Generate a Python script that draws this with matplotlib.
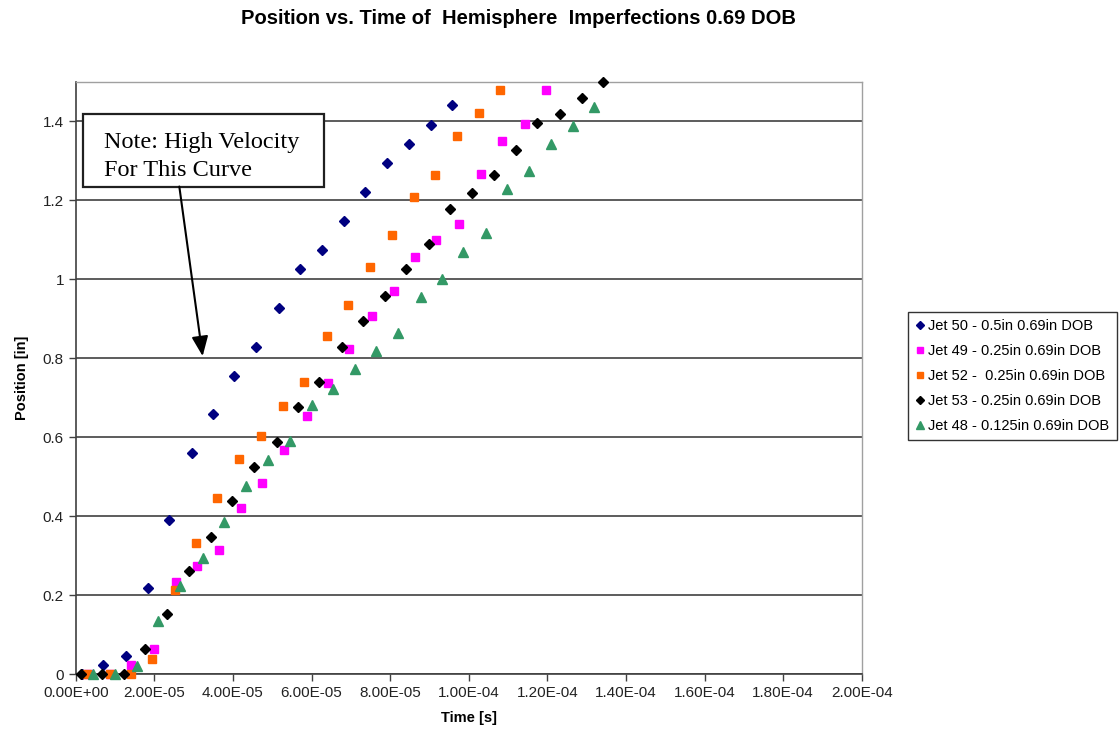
import matplotlib
matplotlib.use('Agg')
import matplotlib.pyplot as plt
from matplotlib.patches import Rectangle
from matplotlib.ticker import FuncFormatter, MultipleLocator

# --- data (time in s, position in in) ---
jet50_t = [0.15e-5, 0.70e-5, 1.29e-5, 1.83e-5, 2.37e-5, 2.95e-5, 3.49e-5, 4.03e-5, 4.59e-5,
           5.16e-5, 5.71e-5, 6.26e-5, 6.82e-5, 7.37e-5, 7.91e-5, 8.49e-5, 9.04e-5, 9.58e-5]
jet50_y = [0, 0.023, 0.046, 0.218, 0.390, 0.560, 0.658, 0.755, 0.828,
           0.927, 1.026, 1.074, 1.147, 1.221, 1.295, 1.343, 1.391, 1.442]

jet49_t = [0.30e-5, 0.86e-5, 1.41e-5, 2.00e-5, 2.54e-5, 3.09e-5, 3.65e-5, 4.21e-5, 4.75e-5,
           5.30e-5, 5.89e-5, 6.41e-5, 6.96e-5, 7.54e-5, 8.09e-5, 8.63e-5, 9.18e-5, 9.75e-5,
           10.30e-5, 10.84e-5, 11.42e-5, 11.96e-5]
jet49_y = [0, 0, 0.023, 0.063, 0.233, 0.274, 0.315, 0.421, 0.484,
           0.567, 0.653, 0.737, 0.823, 0.906, 0.970, 1.056, 1.098, 1.140,
           1.267, 1.351, 1.392, 1.479]

jet52_t = [0.28e-5, 0.865e-5, 1.40e-5, 1.94e-5, 2.52e-5, 3.06e-5, 3.60e-5, 4.16e-5, 4.72e-5,
           5.27e-5, 5.82e-5, 6.39e-5, 6.94e-5, 7.48e-5, 8.06e-5, 8.60e-5, 9.14e-5, 9.69e-5,
           10.26e-5, 10.80e-5]
jet52_y = [0, 0, 0, 0.038, 0.214, 0.332, 0.447, 0.545, 0.603,
           0.679, 0.740, 0.855, 0.935, 1.031, 1.111, 1.207, 1.264, 1.363,
           1.420, 1.479]

jet53_t = [0.13e-5, 0.66e-5, 1.24e-5, 1.77e-5, 2.32e-5, 2.87e-5, 3.44e-5, 3.98e-5, 4.54e-5,
           5.11e-5, 5.65e-5, 6.20e-5, 6.78e-5, 7.32e-5, 7.87e-5, 8.41e-5, 8.99e-5, 9.53e-5,
           10.08e-5, 10.65e-5, 11.20e-5, 11.74e-5, 12.32e-5, 12.87e-5, 13.41e-5]
jet53_y = [0, 0, 0, 0.063, 0.152, 0.261, 0.347, 0.437, 0.523,
           0.587, 0.676, 0.740, 0.828, 0.893, 0.957, 1.025, 1.088, 1.177,
           1.219, 1.264, 1.328, 1.395, 1.419, 1.459, 1.50]

jet48_t = [0.43e-5, 1.01e-5, 1.57e-5, 2.09e-5, 2.66e-5, 3.23e-5, 3.77e-5, 4.33e-5, 4.89e-5,
           5.44e-5, 6.00e-5, 6.55e-5, 7.11e-5, 7.65e-5, 8.19e-5, 8.78e-5, 9.32e-5, 9.86e-5,
           10.43e-5, 10.98e-5, 11.53e-5, 12.10e-5, 12.65e-5, 13.19e-5]
jet48_y = [0, 0, 0.020, 0.134, 0.224, 0.294, 0.384, 0.477, 0.543,
           0.591, 0.680, 0.723, 0.773, 0.818, 0.864, 0.956, 1.001, 1.069,
           1.116, 1.227, 1.275, 1.342, 1.387, 1.435]

labels = ['Jet 50 - 0.5in 0.69in DOB',
          'Jet 49 - 0.25in 0.69in DOB',
          'Jet 52 -  0.25in 0.69in DOB',
          'Jet 53 - 0.25in 0.69in DOB',
          'Jet 48 - 0.125in 0.69in DOB']

plt.rcParams['font.family'] = ['Liberation Sans', 'DejaVu Sans']

fig = plt.figure(figsize=(11.2, 7.38), dpi=100)
ax = fig.add_axes([0.0676, 0.0867, 0.7018, 0.8026])

ax.plot(jet50_t, jet50_y, 'D', color='#000080', ms=5, ls='none', clip_on=False, label=labels[0], zorder=3)
ax.plot(jet49_t, jet49_y, 's', color='#FF00FF', ms=5.5, ls='none', clip_on=False, label=labels[1], zorder=3)
ax.plot(jet52_t, jet52_y, 's', color='#FF6600', ms=5.5, ls='none', clip_on=False, label=labels[2], zorder=3)
ax.plot(jet53_t, jet53_y, 'D', color='black', ms=5, ls='none', clip_on=False, label=labels[3], zorder=3)
ax.plot(jet48_t, jet48_y, '^', color='#339966', ms=7, ls='none', clip_on=False, label=labels[4], zorder=3)

ax.set_xlim(0, 2e-4)
ax.set_ylim(0, 1.5)
ax.xaxis.set_major_locator(MultipleLocator(2e-5))
ax.xaxis.set_major_formatter(FuncFormatter(lambda v, p: '%.2E' % v))
ax.yaxis.set_major_formatter(FuncFormatter(lambda v, p: '%g' % round(v, 2)))
ax.set_yticks([0, 0.2, 0.4, 0.6, 0.8, 1.0, 1.2, 1.4])

ax.grid(axis='y', color='#303030', lw=1.1)
ax.set_axisbelow(True)
for s in ['left', 'bottom']:
    ax.spines[s].set_color('#404040')
    ax.spines[s].set_linewidth(1.2)
for s in ['top', 'right']:
    ax.spines[s].set_color('#a0a0a0')
    ax.spines[s].set_linewidth(1.0)
ax.tick_params(direction='out', length=5, width=1, color='#404040',
               labelsize=11, labelcolor='#222222')

ax.set_xlabel('Time [s]', fontsize=10.5, fontweight='bold', labelpad=8)
ax.set_ylabel('Position [in]', fontsize=10.5, fontweight='bold', labelpad=10)

fig.text(0.4625, 0.9756, 'Position vs. Time of  Hemisphere  Imperfections 0.69 DOB',
         ha='center', va='center', fontsize=14.5, fontweight='bold')

# note box with arrow
ax.add_patch(Rectangle((0.0093, 0.822), 0.3067, 0.1235, transform=ax.transAxes,
                       facecolor='white', edgecolor='#202020', lw=1.6, clip_on=False, zorder=4))
ax.text(0.0361, 0.897, 'Note: High Velocity', transform=ax.transAxes, fontsize=17.5,
        family='Liberation Serif', va='center', ha='left', zorder=5)
ax.text(0.0361, 0.850, 'For This Curve', transform=ax.transAxes, fontsize=17.5,
        family='Liberation Serif', va='center', ha='left', zorder=5)
ax.annotate('', xy=(3.23e-5, 0.805), xytext=(2.636e-5, 1.2345),
            arrowprops=dict(arrowstyle='-|>,head_width=0.5,head_length=1.2',
                            color='black', lw=1.5, shrinkA=0, shrinkB=0), zorder=5)

leg = fig.legend(loc='upper left', bbox_to_anchor=(0.8107, 0.5772), fontsize=10.5,
                 frameon=True, fancybox=False, edgecolor='black', handlelength=0.6,
                 handletextpad=0.3, labelspacing=0.75, borderpad=0.5, markerscale=0.9,
                 borderaxespad=0)
leg.get_frame().set_linewidth(1.0)

fig.savefig('out.png', dpi=100)
